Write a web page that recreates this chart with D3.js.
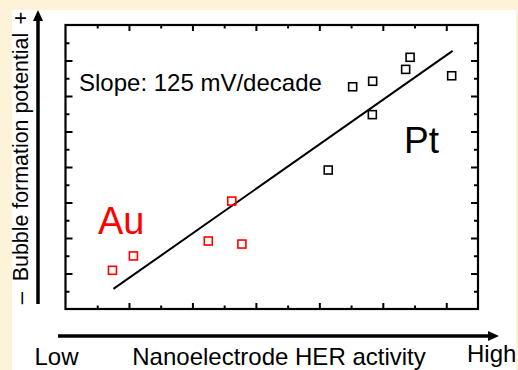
<!DOCTYPE html>
<html>
<head>
<meta charset="utf-8">
<script src="https://cdn.jsdelivr.net/npm/d3@7"></script>
<style>
  html, body { margin: 0; padding: 0; background: #fcf3d9; }
  svg { display: block; }
  text { font-family: Arial, "Liberation Sans", sans-serif; }
</style>
</head>
<body>
<script>
// ---- data (arbitrary units) ----
const auX = [1.48, 2.14, 4.50, 5.24, 5.56];
const auY = [2.18, 2.99, 3.83, 6.08, 3.66];
const ptX = [8.28, 9.05, 9.68, 9.67, 10.72, 10.86, 12.17];
const ptY = [7.83, 12.52, 12.83, 10.95, 13.50, 14.18, 13.14];
const fitX = [1.51, 12.20];
const fitY = [1.13, 14.54];
const xMajorTicks = [2, 4, 6, 8, 10, 12];
const xMinorTicks = [1, 3, 5, 7, 9, 11];
const yMajorTicks = [2, 4, 6, 8, 10, 12, 14];
const yMinorTicks = [1, 3, 5, 7, 9, 11, 13, 15];
const slopeLabel = "Slope: 125 mV/decade";
const xTitle = "Nanoelectrode HER activity";
const yTitle = "Bubble formation potential";

const W = 518, H = 370;
const svg = d3.select("body").append("svg").attr("width", W).attr("height", H);

// white panel
svg.append("rect").attr("x", 12).attr("y", 10).attr("width", 504).attr("height", 360).attr("fill", "#ffffff");

const x = d3.scaleLinear().domain([0, 13]).range([65.5, 478]);
const y = d3.scaleLinear().domain([0, 16]).range([309, 25]);

function addAxis(axisFn, scale, vals, size, transform) {
  const g = svg.append("g").attr("transform", transform)
    .call(axisFn(scale).tickValues(vals).tickSize(size).tickSizeOuter(0).tickFormat(""));
  g.select(".domain").remove();
  g.selectAll(".tick line").attr("stroke", "#000").attr("stroke-width", 2);
}
// bottom edge (ticks inward = up)
addAxis(d3.axisTop, x, xMajorTicks, 6, `translate(0,${y(0)})`);
addAxis(d3.axisTop, x, xMinorTicks, 3.5, `translate(0,${y(0)})`);
// top edge (ticks down)
addAxis(d3.axisBottom, x, xMajorTicks, 6, `translate(0,${y(16)})`);
addAxis(d3.axisBottom, x, xMinorTicks, 3.5, `translate(0,${y(16)})`);
// left edge (ticks right)
addAxis(d3.axisRight, y, yMajorTicks, 7, `translate(${x(0)},0)`);
addAxis(d3.axisRight, y, yMinorTicks, 4, `translate(${x(0)},0)`);
// right edge (ticks left)
addAxis(d3.axisLeft, y, yMajorTicks, 7, `translate(${x(13)},0)`);
addAxis(d3.axisLeft, y, yMinorTicks, 4, `translate(${x(13)},0)`);

// frame
svg.append("rect")
  .attr("x", x(0)).attr("y", y(16))
  .attr("width", x(13) - x(0)).attr("height", y(0) - y(16))
  .attr("fill", "none").attr("stroke", "#000").attr("stroke-width", 2.2);

// fit line
const fit = fitX.map((v, i) => [v, fitY[i]]);
svg.append("path").datum(fit)
  .attr("d", d3.line().x(d => x(d[0])).y(d => y(d[1])))
  .attr("stroke", "#000").attr("stroke-width", 2).attr("fill", "none");

// markers
const S = 8;
const au = auX.map((v, i) => [v, auY[i]]);
const pt = ptX.map((v, i) => [v, ptY[i]]);
svg.append("g").selectAll("rect").data(au).join("rect")
  .attr("x", d => x(d[0]) - S / 2).attr("y", d => y(d[1]) - S / 2)
  .attr("width", S).attr("height", S)
  .attr("fill", "none").attr("stroke", "#ff0000").attr("stroke-width", 1.6);
svg.append("g").selectAll("rect").data(pt).join("rect")
  .attr("x", d => x(d[0]) - S / 2).attr("y", d => y(d[1]) - S / 2)
  .attr("width", S).attr("height", S)
  .attr("fill", "none").attr("stroke", "#000").attr("stroke-width", 1.6);

// annotations
svg.append("text").attr("x", 79).attr("y", 91).attr("font-size", 24).attr("fill", "#000").text(slopeLabel);
svg.append("text").attr("x", 98).attr("y", 234).attr("font-size", 38).attr("fill", "#ff0000").text("Au");
svg.append("text").attr("x", 404).attr("y", 153).attr("font-size", 37).attr("fill", "#000").text("Pt");

// outer arrows
svg.append("line").attr("x1", 38).attr("y1", 304).attr("x2", 38).attr("y2", 19)
  .attr("stroke", "#000").attr("stroke-width", 3.5);
svg.append("path").attr("d", "M38,10 L33,21 L43,21 Z").attr("fill", "#000");
svg.append("line").attr("x1", 58).attr("y1", 336).attr("x2", 490).attr("y2", 336)
  .attr("stroke", "#000").attr("stroke-width", 3.5);
svg.append("path").attr("d", "M499,336 L488,331 L488,341 Z").attr("fill", "#000");

// axis titles
svg.append("text").attr("transform", "translate(28,157) rotate(-90)")
  .attr("text-anchor", "middle").attr("font-size", 21.4).attr("fill", "#000").text(yTitle);
svg.append("text").attr("transform", "translate(28,18) rotate(-90)")
  .attr("text-anchor", "middle").attr("font-size", 22).text("+");
svg.append("text").attr("transform", "translate(28,298) rotate(-90)")
  .attr("text-anchor", "middle").attr("font-size", 22).text("–");

svg.append("text").attr("x", 34.5).attr("y", 365).attr("font-size", 24).text("Low");
svg.append("text").attr("x", 279).attr("y", 365).attr("text-anchor", "middle").attr("font-size", 24).text(xTitle);
svg.append("text").attr("x", 467).attr("y", 362).attr("font-size", 24).text("High");
</script>
</body>
</html>
